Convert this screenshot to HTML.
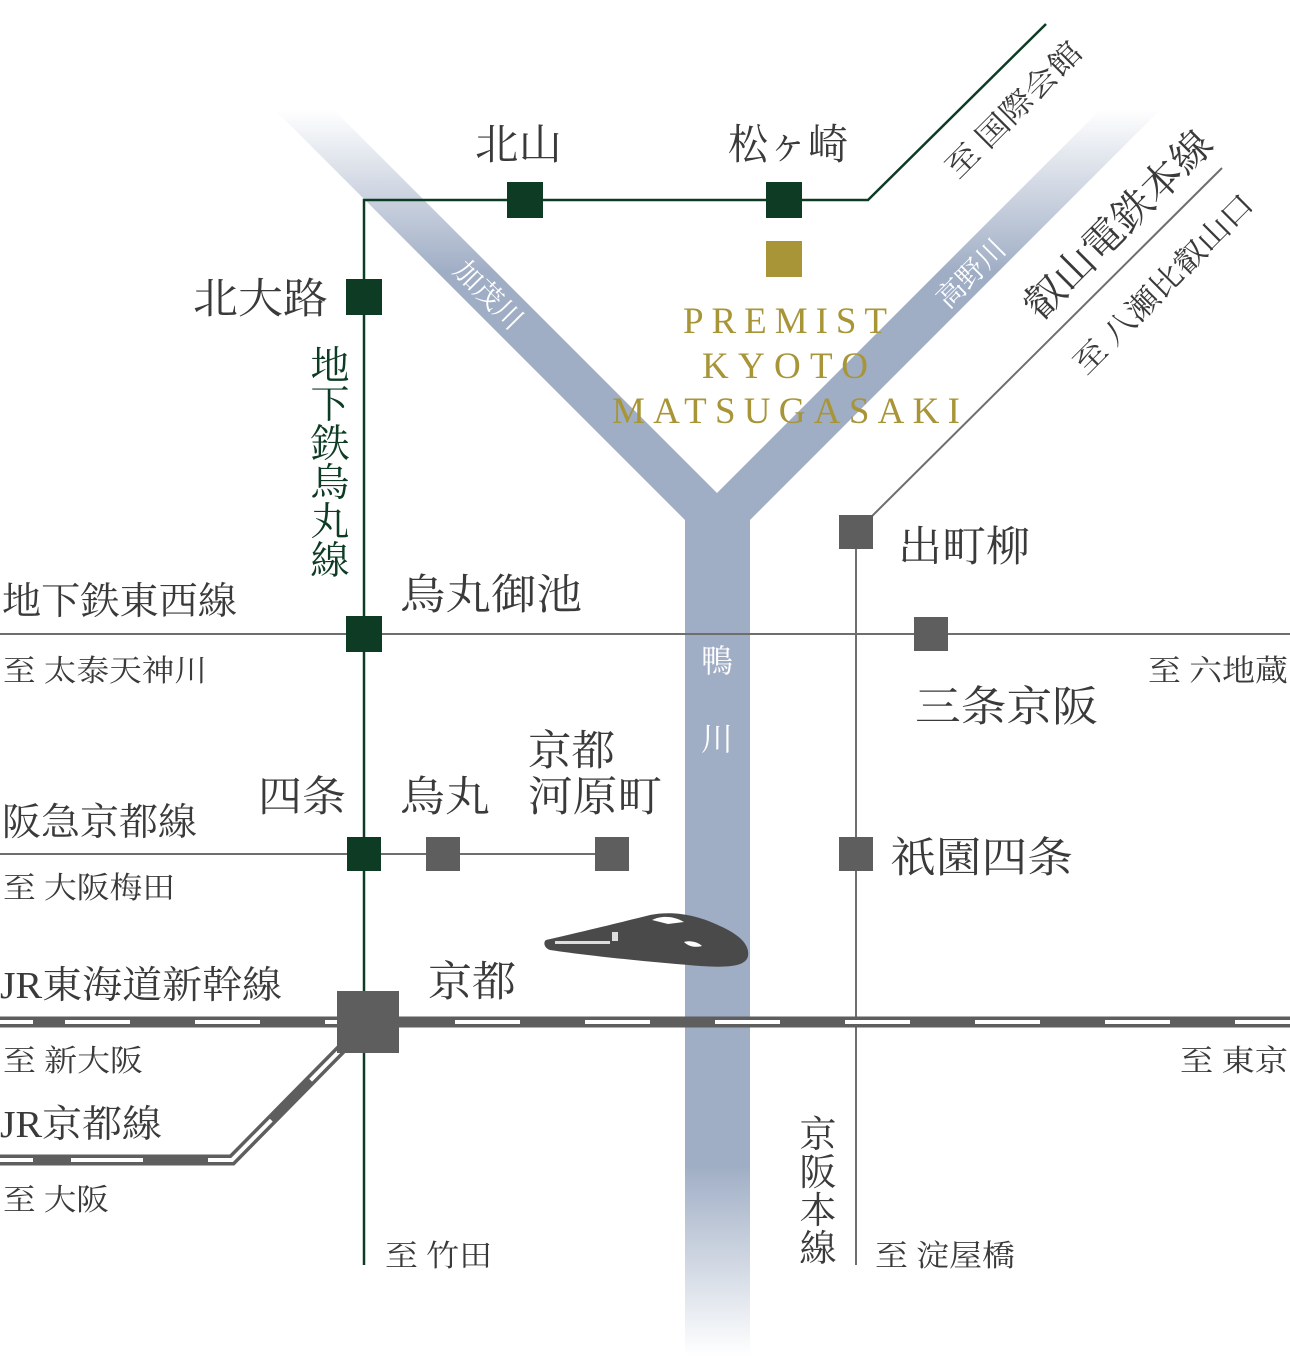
<!DOCTYPE html>
<html><head><meta charset="utf-8"><style>
html,body{margin:0;padding:0;background:#fff}
svg{display:block}
text{font-family:"Liberation Serif","Noto Serif CJK SC",serif;fill:#3a3a3a}
</style></head><body>
<svg width="1290" height="1356" viewBox="0 0 1290 1356" xmlns="http://www.w3.org/2000/svg">
<defs>
<linearGradient id="fade" x1="0" y1="0" x2="0" y2="1356" gradientUnits="userSpaceOnUse">
<stop offset="0.08" stop-color="#fff" stop-opacity="0"/>
<stop offset="0.2" stop-color="#fff" stop-opacity="1"/>
<stop offset="0.86" stop-color="#fff" stop-opacity="1"/>
<stop offset="1" stop-color="#fff" stop-opacity="0"/>
</linearGradient>
<mask id="m"><rect width="1290" height="1356" fill="url(#fade)"/></mask>
</defs>
<polygon mask="url(#m)" fill="#a0aec5" points="275,110 334,110 717,493 1100,110 1160,110 750,520 750,1356 685,1356 685,520"/>
<text transform="translate(452,272) rotate(45)" font-size="28" style="fill:#fff">加茂川</text>
<text transform="translate(948,310) rotate(-45)" font-size="28" style="fill:#fff">高野川</text>
<text x="717" y="672" font-size="32" text-anchor="middle" style="fill:#fff">鴨</text>
<text x="717" y="750" font-size="32" text-anchor="middle" style="fill:#fff">川</text>

<g stroke="#6e6e6e" stroke-width="2" fill="none">
<line x1="0" y1="634" x2="1290" y2="634"/>
<line x1="0" y1="854" x2="628" y2="854"/>
<polyline points="856,1265 856,532 1222,168"/>
</g>
<polyline points="364,1265 364,200 868,200 1046,24" stroke="#0d3b24" stroke-width="2.5" fill="none"/>

<g fill="none">
<line x1="0" y1="1022" x2="1290" y2="1022" stroke="#5e5e5e" stroke-width="11"/>
<line x1="0" y1="1022" x2="1290" y2="1022" stroke="#fff" stroke-width="4" stroke-dasharray="33 32 65 65 65 65 65 65 65 65 65 65 65 65 65 65 65 65 65 65 65 65 65 65 65 65 65 65 65 65 65 65 65 65 65 65"/>
<polyline points="368,1022 232,1160 0,1160" stroke="#5e5e5e" stroke-width="11" stroke-linejoin="miter"/>
<polyline points="0,1160 232,1160 368,1022" stroke="#fff" stroke-width="4" stroke-dasharray="33 38 72 65 80 56 50 300"/>
</g>

<g fill="#0d3b24">
<rect x="507" y="182" width="36" height="36"/>
<rect x="766" y="182" width="36" height="36"/>
<rect x="346" y="279" width="36" height="36"/>
<rect x="346" y="616" width="36" height="36"/>
<rect x="347" y="837" width="34" height="34"/>
</g>
<rect x="766" y="241" width="36" height="36" fill="#a89538"/>
<g fill="#5e5e5e">
<rect x="839" y="515" width="34" height="34"/>
<rect x="914" y="617" width="34" height="34"/>
<rect x="426" y="837" width="34" height="34"/>
<rect x="595" y="837" width="34" height="34"/>
<rect x="839" y="837" width="34" height="34"/>
<rect x="337" y="991" width="62" height="62"/>
</g>

<path d="M546,940 C590,930 630,920 650,915 C675,910 700,916 720,926 C738,934 750,944 748,956 C746,966 730,968 700,966 C650,962 590,956 550,950 C544,948 543,942 546,940Z" fill="#4a4a4a"/>
<path d="M652,920 C660,916 672,915 684,922 L668,924Z" fill="#fff"/>
<path d="M684,942 C690,940 698,942 702,946 C694,948 688,946 684,942Z" fill="#fff"/>
<g fill="#ddd"><rect x="555" y="941" width="55" height="3"/><rect x="612" y="932" width="6" height="9"/></g>

<g font-size="37" text-anchor="middle">
<text x="785" y="333" textLength="204" lengthAdjust="spacing" style="fill:#a89538">PREMIST</text>
<text x="785" y="378" textLength="166" lengthAdjust="spacing" style="fill:#a89538">KYOTO</text>
<text x="786" y="423" textLength="348" lengthAdjust="spacing" style="fill:#a89538">MATSUGASAKI</text>
</g>

<g font-size="42" lengthAdjust="spacingAndGlyphs">
<text x="475" y="159" textLength="87" lengthAdjust="spacingAndGlyphs">北山</text>
<text x="728" y="159" textLength="120" lengthAdjust="spacingAndGlyphs">松ヶ崎</text>
<text x="193" y="313" textLength="135" lengthAdjust="spacingAndGlyphs">北大路</text>
<text x="400" y="609" textLength="182" lengthAdjust="spacingAndGlyphs">烏丸御池</text>
<text x="898" y="561" textLength="132" lengthAdjust="spacingAndGlyphs">出町柳</text>
<text x="915" y="721" textLength="183" lengthAdjust="spacingAndGlyphs">三条京阪</text>
<text x="258" y="811" textLength="88" lengthAdjust="spacingAndGlyphs">四条</text>
<text x="400" y="811" textLength="90" lengthAdjust="spacingAndGlyphs">烏丸</text>
<text x="528" y="765" textLength="87" lengthAdjust="spacingAndGlyphs">京都</text>
<text x="528" y="811" textLength="134" lengthAdjust="spacingAndGlyphs">河原町</text>
<text x="890" y="872" textLength="183" lengthAdjust="spacingAndGlyphs">祇園四条</text>
<text x="428" y="996" textLength="88" lengthAdjust="spacingAndGlyphs">京都</text>
</g>
<g font-size="38">
<text x="2" y="614" textLength="235" lengthAdjust="spacingAndGlyphs">地下鉄東西線</text>
<text x="2" y="835" textLength="195" lengthAdjust="spacingAndGlyphs">阪急京都線</text>
<text x="0" y="998" textLength="282" lengthAdjust="spacingAndGlyphs">JR東海道新幹線</text>
<text x="0" y="1137" textLength="162" lengthAdjust="spacingAndGlyphs">JR京都線</text>
</g>
<g font-size="30">
<text x="3" y="681" textLength="204" lengthAdjust="spacingAndGlyphs">至 太泰天神川</text>
<text x="1148" y="681" textLength="140" lengthAdjust="spacingAndGlyphs">至 六地蔵</text>
<text x="3" y="898" textLength="172" lengthAdjust="spacingAndGlyphs">至 大阪梅田</text>
<text x="3" y="1071" textLength="140" lengthAdjust="spacingAndGlyphs">至 新大阪</text>
<text x="1180" y="1071" textLength="108" lengthAdjust="spacingAndGlyphs">至 東京</text>
<text x="3" y="1210" textLength="106" lengthAdjust="spacingAndGlyphs">至 大阪</text>
<text x="385" y="1266" textLength="107" lengthAdjust="spacingAndGlyphs">至 竹田</text>
<text x="875" y="1266" textLength="140" lengthAdjust="spacingAndGlyphs">至 淀屋橋</text>
</g>
<g font-size="39" text-anchor="middle">
<text x="330" y="379" style="fill:#0d3b24">地</text>
<text x="330" y="418" style="fill:#0d3b24">下</text>
<text x="330" y="457" style="fill:#0d3b24">鉄</text>
<text x="330" y="496" style="fill:#0d3b24">烏</text>
<text x="330" y="535" style="fill:#0d3b24">丸</text>
<text x="330" y="574" style="fill:#0d3b24">線</text>
</g>
<g font-size="37" text-anchor="middle">
<text x="818" y="1147">京</text>
<text x="818" y="1185">阪</text>
<text x="818" y="1223">本</text>
<text x="818" y="1261">線</text>
</g>
<text transform="translate(958,180) rotate(-45)" font-size="30" textLength="178" lengthAdjust="spacingAndGlyphs">至 国際会館</text>
<text transform="translate(1040,322) rotate(-45)" font-size="40" textLength="248" lengthAdjust="spacingAndGlyphs">叡山電鉄本線</text>
<text transform="translate(1086,376) rotate(-45)" font-size="30" textLength="240" lengthAdjust="spacingAndGlyphs">至 八瀬比叡山口</text>
</svg>
</body></html>
